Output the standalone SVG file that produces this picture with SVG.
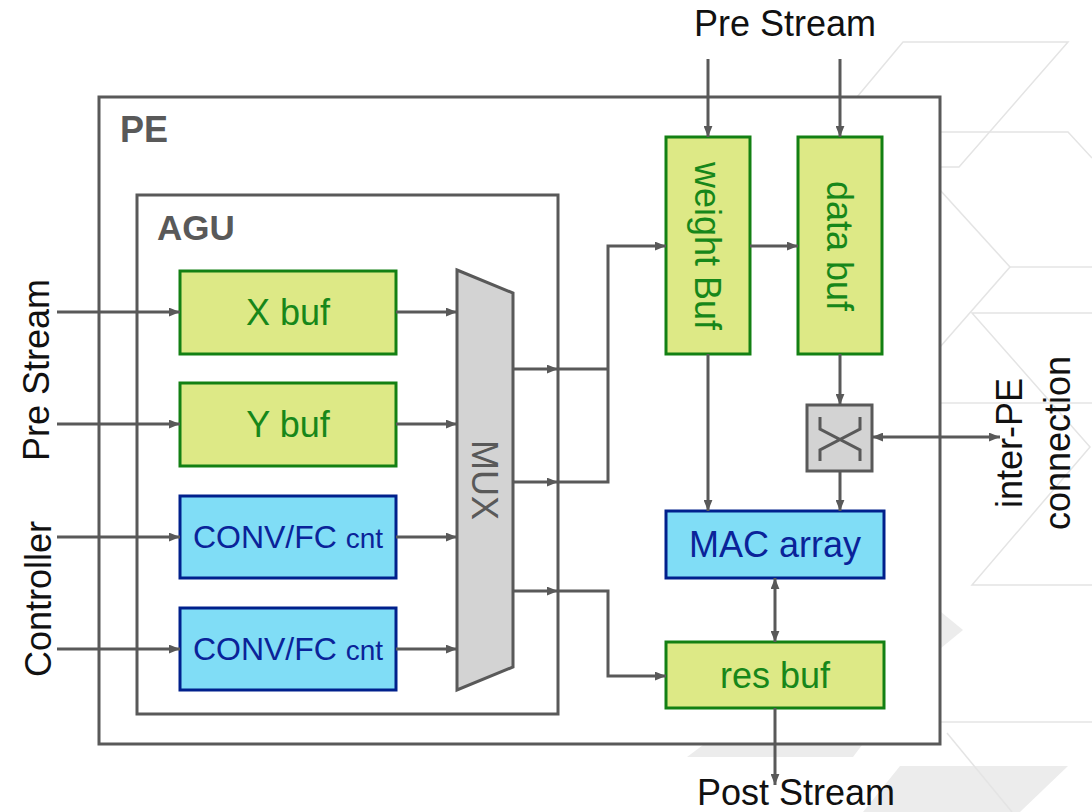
<svg xmlns="http://www.w3.org/2000/svg" width="1092" height="812" viewBox="0 0 1092 812">
  <style>
    .deco { fill: none; stroke: #e4e4e4; stroke-width: 1.5; }
    .decofill { fill: #ececec; stroke: none; }
    .frame { fill: #ffffff; stroke: #595959; stroke-width: 3; }
    .title { font-family: "Liberation Sans", Arial, sans-serif; font-weight: bold; fill: #595959; }
    .lbl { font-family: "Liberation Sans", Arial, sans-serif; font-size: 36px; fill: #111111; }
    .buf { fill: #dde986; stroke: #138013; stroke-width: 3; }
    .buftxt { font-family: "Liberation Sans", Arial, sans-serif; font-size: 36px; fill: #17871a; text-anchor: middle; }
    .cnt { fill: #80ddf6; stroke: #00208c; stroke-width: 3; }
    .cnttxt { font-family: "Liberation Sans", Arial, sans-serif; fill: #0a2399; text-anchor: middle; }
    .gray { fill: #d3d3d3; stroke: #595959; stroke-width: 3; }
    .wire { fill: none; stroke: #595959; stroke-width: 3; }
    .arr { marker-end: url(#ah); }
    .bi { marker-start: url(#ah); marker-end: url(#ah); }
  </style>
  <defs>
    <marker id="ah" viewBox="0 0 10 8" refX="10" refY="4" markerWidth="11" markerHeight="9" markerUnits="userSpaceOnUse" orient="auto-start-reverse">
      <path d="M0,0 L10,4 L0,8 z" fill="#595959"/>
    </marker>
  </defs>

  <rect width="1092" height="812" fill="#ffffff"/>

  <!-- faint background pattern -->
  <g id="background">
    <polygon class="decofill" points="900,766 1068,766 1020,812 863,812"/>
    <polygon class="decofill" points="703,745 862,745 853,757 687,757"/>
    <polygon class="decofill" points="930,603 963,630 930,657"/>
    <polyline class="deco" points="857,97 903,42 1068,42 959,167 940,167"/>
    <polyline class="deco" points="940,132 1068,132 1092,158"/>
    <polyline class="deco" points="940,190 1010,267 940,347"/>
    <polyline class="deco" points="1010,267 1092,267"/>
    <polyline class="deco" points="1092,313 972,313 1090,447 972,585 1092,585"/>
    <polyline class="deco" points="940,403 1092,403"/>
    <polyline class="deco" points="940,722 1092,722"/>
    <polyline class="deco" points="947,733 1012,812"/>
  </g>

  <!-- PE container -->
  <g id="pe">
    <rect class="frame" x="99" y="97" width="841" height="647"/>
    <text class="title" x="120" y="142" font-size="36">PE</text>
  </g>

  <!-- AGU container -->
  <g id="agu">
    <rect class="frame" x="137" y="195" width="421" height="519"/>
    <text class="title" x="157" y="240" font-size="35">AGU</text>
  </g>

  <!-- outside labels -->
  <g id="labels">
    <text class="lbl" x="785" y="36" text-anchor="middle">Pre Stream</text>
    <text class="lbl" x="796" y="805" text-anchor="middle">Post Stream</text>
    <text class="lbl" text-anchor="middle" transform="translate(49,370) rotate(-90)">Pre Stream</text>
    <text class="lbl" text-anchor="middle" transform="translate(51,599) rotate(-90)">Controller</text>
    <text class="lbl" text-anchor="middle" transform="translate(1022,443) rotate(-90)">inter-PE</text>
    <text class="lbl" text-anchor="middle" transform="translate(1070,443) rotate(-90)">connection</text>
  </g>

  <!-- AGU contents -->
  <g id="xbuf">
    <rect class="buf" x="180" y="271" width="216" height="83"/>
    <text class="buftxt" x="288" y="325">X buf</text>
  </g>
  <g id="ybuf">
    <rect class="buf" x="180" y="383" width="216" height="83"/>
    <text class="buftxt" x="288" y="437">Y buf</text>
  </g>
  <g id="cnt1">
    <rect class="cnt" x="180" y="496" width="216" height="82"/>
    <text class="cnttxt" x="288" y="548"><tspan font-size="32">CONV/FC </tspan><tspan font-size="28">cnt</tspan></text>
  </g>
  <g id="cnt2">
    <rect class="cnt" x="180" y="608" width="216" height="82"/>
    <text class="cnttxt" x="288" y="660"><tspan font-size="32">CONV/FC </tspan><tspan font-size="28">cnt</tspan></text>
  </g>
  <g id="mux">
    <polygon class="gray" points="457,270 513,293 513,667 457,690"/>
    <text class="lbl" fill="#595959" style="fill:#595959" text-anchor="middle" transform="translate(485,480) rotate(90)" y="13">MUX</text>
  </g>

  <!-- datapath -->
  <g id="weightbuf">
    <rect class="buf" x="666" y="137" width="84" height="217"/>
    <text class="buftxt" transform="translate(708,246) rotate(90)" y="13">weight Buf</text>
  </g>
  <g id="databuf">
    <rect class="buf" x="798" y="137" width="84" height="217"/>
    <text class="buftxt" transform="translate(840,246) rotate(90)" y="13">data buf</text>
  </g>
  <g id="crossbar">
    <rect class="gray" x="807" y="405" width="65" height="66"/>
    <path class="wire" d="M820,417 V429 L860,450 V461 M860,417 V429 L820,450 V461"/>
  </g>
  <g id="mac">
    <rect class="cnt" x="666" y="511" width="218" height="67"/>
    <text class="cnttxt" x="775" y="557" font-size="36">MAC array</text>
  </g>
  <g id="resbuf">
    <rect class="buf" x="666" y="642" width="218" height="66"/>
    <text class="buftxt" x="775" y="688">res buf</text>
  </g>

  <!-- connectors -->
  <g id="connectors">
    <path class="wire arr" d="M57,312 H180"/>
    <path class="wire arr" d="M57,424 H180"/>
    <path class="wire arr" d="M57,537 H180"/>
    <path class="wire arr" d="M57,649 H180"/>
    <path class="wire arr" d="M396,312 H457"/>
    <path class="wire arr" d="M396,424 H457"/>
    <path class="wire arr" d="M396,537 H457"/>
    <path class="wire arr" d="M396,649 H457"/>
    <path class="wire arr" d="M513,369 H558"/>
    <path class="wire arr" d="M513,482 H558"/>
    <path class="wire arr" d="M513,591 H558"/>
    <path class="wire" d="M558,369 H608"/>
    <path class="wire arr" d="M558,482 H608 V246 H666"/>
    <path class="wire arr" d="M558,591 H608 V676 H666"/>
    <path class="wire arr" d="M708,59 V137"/>
    <path class="wire arr" d="M840,59 V137"/>
    <path class="wire arr" d="M750,246 H798"/>
    <path class="wire arr" d="M708,354 V511"/>
    <path class="wire arr" d="M840,354 V405"/>
    <path class="wire arr" d="M840,471 V511"/>
    <path class="wire bi" d="M872,437 H1000"/>
    <path class="wire bi" d="M775,578 V642"/>
    <path class="wire arr" d="M775,708 V785"/>
  </g>
</svg>
